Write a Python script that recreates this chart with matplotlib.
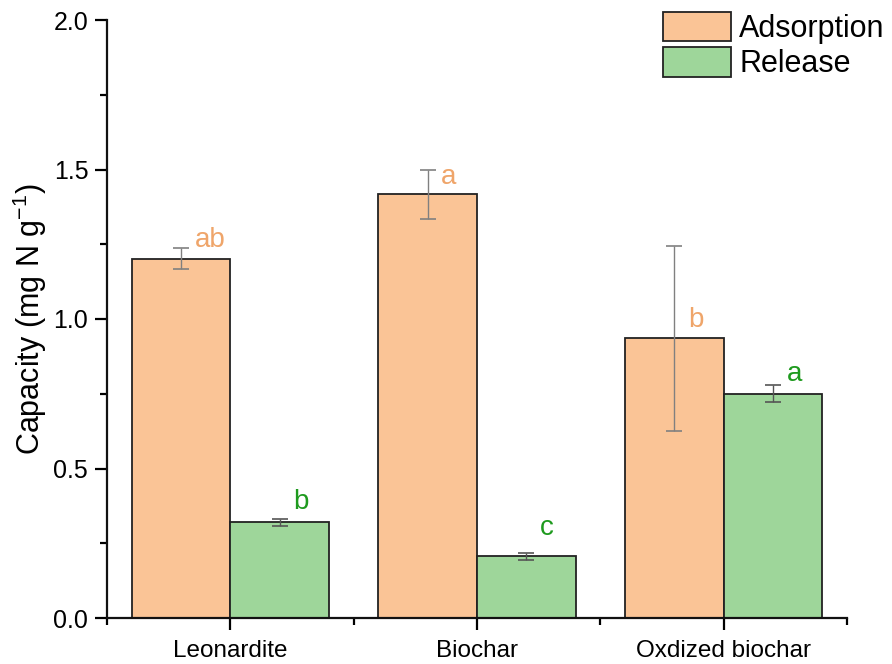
import numpy as np
import matplotlib.pyplot as plt
from matplotlib.ticker import MultipleLocator, FixedLocator

plt.rcParams['font.family'] = ['Liberation Sans', 'DejaVu Sans']
plt.rcParams['mathtext.fontset'] = 'custom'
plt.rcParams['mathtext.rm'] = 'Liberation Sans'
plt.rcParams['mathtext.it'] = 'Liberation Sans'

# data
groups = ['Leonardite', 'Biochar', 'Oxdized biochar']
adsorption = [1.202, 1.418, 0.935]
adsorption_err = [0.035, 0.082, 0.31]
release = [0.320, 0.207, 0.750]
release_err = [0.011, 0.012, 0.029]
ads_letters = ['ab', 'a', 'b']
rel_letters = ['b', 'c', 'a']
# letter heights
ads_letter_y = [1.265, 1.475, 0.997]
rel_letter_y = [0.388, 0.301, 0.816]

c_ads = '#FAC496'
c_rel = '#9ED69A'
c_ads_txt = '#EFA56A'
c_rel_txt = '#1E9A1E'

fig = plt.figure(figsize=(8.92, 6.64), dpi=100)
ax = fig.add_axes([107/892, 46/664, 740/892, 598/664])

x = np.arange(1, len(groups) + 1)
w = 0.4
ax.bar(x - w/2, adsorption, w, color=c_ads, edgecolor='#222222', linewidth=1.3, label='Adsorption')
ax.bar(x + w/2, release, w, color=c_rel, edgecolor='#222222', linewidth=1.3, label='Release')
ax.errorbar(x - w/2, adsorption, yerr=adsorption_err, fmt='none', ecolor='#808080',
            elinewidth=1, capsize=6, capthick=1.2)
ax.errorbar(x + w/2, release, yerr=release_err, fmt='none', ecolor='#555555',
            elinewidth=1, capsize=6, capthick=1.2)

# significance letters
for i in range(len(groups)):
    ax.text(x[i] - w/2 + 0.055, ads_letter_y[i], ads_letters[i], color=c_ads_txt,
            fontsize=20, ha='left', va='center')
    ax.text(x[i] + w/2 + 0.055, rel_letter_y[i], rel_letters[i], color=c_rel_txt,
            fontsize=20, ha='left', va='center')

ax.set_xlim(0.5, 3.5)
ax.set_ylim(0, 2.0)
ax.yaxis.set_major_locator(MultipleLocator(0.5))
ax.yaxis.set_minor_locator(MultipleLocator(0.25))
ax.set_xticks(x)
ax.set_xticklabels(groups)
ax.xaxis.set_minor_locator(FixedLocator([0.5, 1.5, 2.5, 3.5]))
ax.yaxis.set_major_formatter(plt.FormatStrFormatter('%.1f'))

for s in ['top', 'right']:
    ax.spines[s].set_visible(False)
for s in ['left', 'bottom']:
    ax.spines[s].set_linewidth(1.6)
    ax.spines[s].set_color('#111111')

ax.tick_params(axis='both', which='major', direction='out', length=8.5, width=1.6,
               labelsize=18, pad=5)
ax.tick_params(axis='both', which='minor', direction='out', length=5, width=1.6)
ax.tick_params(axis='x', labelsize=17.5, pad=7)

ax.set_ylabel('Capacity (mg N g$^{-1}$)', fontsize=22, labelpad=3)

ax.legend(loc='upper left', bbox_to_anchor=(0.751, 1.014), frameon=False, fontsize=22,
          handlelength=2.25, handleheight=1.1, handletextpad=0.26, labelspacing=0.12,
          borderaxespad=0, borderpad=0)

fig.savefig('out.png', dpi=100)
